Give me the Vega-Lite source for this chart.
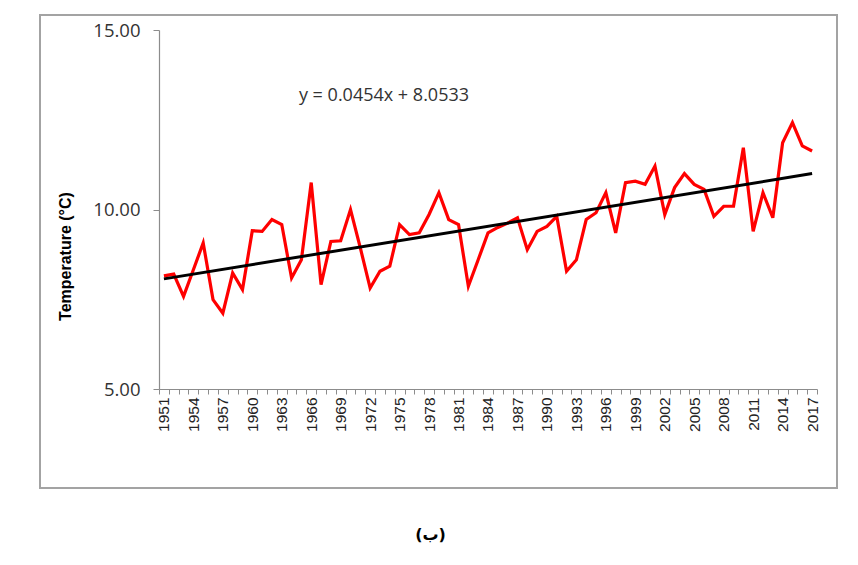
{
  "$schema": "https://vega.github.io/schema/vega-lite/v6.json",
  "autosize": {"type": "none"},
  "width": 797,
  "height": 473,
  "padding": {"left": 40, "top": 15, "right": 21, "bottom": 77},
  "background": "white",
  "title": {
    "text": "(ب)",
    "orient": "bottom",
    "anchor": "middle",
    "dx": -8,
    "offset": 39,
    "font": "DejaVu Sans",
    "fontSize": 16,
    "fontWeight": "bold",
    "color": "black"
  },
  "data": {
    "values": [
      {"year": 1951, "temp": 8.15}, {"year": 1952, "temp": 8.2}, {"year": 1953, "temp": 7.58},
      {"year": 1954, "temp": 8.32}, {"year": 1955, "temp": 9.07}, {"year": 1956, "temp": 7.49},
      {"year": 1957, "temp": 7.11}, {"year": 1958, "temp": 8.23}, {"year": 1959, "temp": 7.77},
      {"year": 1960, "temp": 9.41}, {"year": 1961, "temp": 9.39}, {"year": 1962, "temp": 9.72},
      {"year": 1963, "temp": 9.58}, {"year": 1964, "temp": 8.09}, {"year": 1965, "temp": 8.6},
      {"year": 1966, "temp": 10.75}, {"year": 1967, "temp": 7.91}, {"year": 1968, "temp": 9.11},
      {"year": 1969, "temp": 9.13}, {"year": 1970, "temp": 10.0}, {"year": 1971, "temp": 8.93},
      {"year": 1972, "temp": 7.81}, {"year": 1973, "temp": 8.28}, {"year": 1974, "temp": 8.42},
      {"year": 1975, "temp": 9.58}, {"year": 1976, "temp": 9.3}, {"year": 1977, "temp": 9.35},
      {"year": 1978, "temp": 9.86}, {"year": 1979, "temp": 10.47}, {"year": 1980, "temp": 9.72},
      {"year": 1981, "temp": 9.58}, {"year": 1982, "temp": 7.86}, {"year": 1983, "temp": 8.6},
      {"year": 1984, "temp": 9.35}, {"year": 1985, "temp": 9.5}, {"year": 1986, "temp": 9.62},
      {"year": 1987, "temp": 9.77}, {"year": 1988, "temp": 8.88}, {"year": 1989, "temp": 9.39},
      {"year": 1990, "temp": 9.53}, {"year": 1991, "temp": 9.81}, {"year": 1992, "temp": 8.28},
      {"year": 1993, "temp": 8.6}, {"year": 1994, "temp": 9.72}, {"year": 1995, "temp": 9.91},
      {"year": 1996, "temp": 10.47}, {"year": 1997, "temp": 9.35}, {"year": 1998, "temp": 10.75},
      {"year": 1999, "temp": 10.79}, {"year": 2000, "temp": 10.7}, {"year": 2001, "temp": 11.21},
      {"year": 2002, "temp": 9.86}, {"year": 2003, "temp": 10.61}, {"year": 2004, "temp": 11.0},
      {"year": 2005, "temp": 10.7}, {"year": 2006, "temp": 10.56}, {"year": 2007, "temp": 9.81},
      {"year": 2008, "temp": 10.09}, {"year": 2009, "temp": 10.09}, {"year": 2010, "temp": 11.72},
      {"year": 2011, "temp": 9.39}, {"year": 2012, "temp": 10.47}, {"year": 2013, "temp": 9.77},
      {"year": 2014, "temp": 11.86}, {"year": 2015, "temp": 12.42}, {"year": 2016, "temp": 11.77},
      {"year": 2017, "temp": 11.63}
    ]
  },
  "encoding": {
    "x": {
      "field": "year",
      "type": "quantitative",
      "scale": {"domain": [1950.5, 2017.5], "nice": false, "zero": false, "range": [119, 777]},
      "axis": {
        "title": null,
        "grid": false,
        "offset": -99,
        "values": [1950.5,1951.5,1952.5,1953.5,1954.5,1955.5,1956.5,1957.5,1958.5,1959.5,1960.5,1961.5,1962.5,1963.5,1964.5,1965.5,1966.5,1967.5,1968.5,1969.5,1970.5,1971.5,1972.5,1973.5,1974.5,1975.5,1976.5,1977.5,1978.5,1979.5,1980.5,1981.5,1982.5,1983.5,1984.5,1985.5,1986.5,1987.5,1988.5,1989.5,1990.5,1991.5,1992.5,1993.5,1994.5,1995.5,1996.5,1997.5,1998.5,1999.5,2000.5,2001.5,2002.5,2003.5,2004.5,2005.5,2006.5,2007.5,2008.5,2009.5,2010.5,2011.5,2012.5,2013.5,2014.5,2015.5,2016.5,2017.5],
        "labelExpr": "((datum.value + 0.5 - 1951) % 3 == 0 && datum.value < 2017) ? '' + (datum.value + 0.5) : ''",
        "labelOffset": 4.9,
        "labelAngle": -90,
        "labelOverlap": false,
        "labelFlush": false,
        "labelFont": "Liberation Sans",
        "labelFontSize": 15.5,
        "labelColor": "#222222",
        "labelPadding": 3,
        "tickSize": 5,
        "tickColor": "#8c8c8c",
        "domainColor": "#8c8c8c",
        "domainWidth": 1.2
      }
    },
    "y": {
      "field": "temp",
      "type": "quantitative",
      "scale": {"domain": [5, 15], "nice": false, "zero": false, "range": [374, 15]},
      "axis": {
        "title": "Temperature (°C)",
        "grid": false,
        "offset": -119,
        "values": [5, 10, 15],
        "format": ".2f",
        "labelFont": "Open Sans",
        "labelFontSize": 18.5,
        "labelColor": "#333333",
        "labelPadding": 13,
        "tickSize": 6,
        "tickColor": "#8c8c8c",
        "domainColor": "#8c8c8c",
        "domainWidth": 1.2,
        "titleFont": "Liberation Sans",
        "titleFontSize": 16,
        "titleFontWeight": "bold",
        "titleColor": "black",
        "titleX": -94,
        "titleY": 241,
        "titleAlign": "center",
        "titleBaseline": "middle"
      }
    }
  },
  "layer": [
    {
      "mark": {"type": "line", "color": "#ff0000", "strokeWidth": 3.2, "strokeJoin": "miter"}
    },
    {
      "transform": [{"regression": "temp", "on": "year", "method": "linear", "extent": [1951, 2017]}],
      "mark": {"type": "line", "color": "black", "strokeWidth": 3}
    },
    {
      "transform": [{"filter": "datum.year == 1973"}],
      "mark": {"type": "text", "text": "y = 0.0454x + 8.0533", "font": "Open Sans", "fontSize": 18, "color": "#333333", "align": "center", "baseline": "middle", "dx": 4},
      "encoding": {
        "x": {"field": "year", "type": "quantitative"},
        "y": {"datum": 13.15, "type": "quantitative"}
      }
    }
  ],
  "config": {
    "view": {"stroke": "#a3a3a3", "strokeWidth": 2}
  }
}
